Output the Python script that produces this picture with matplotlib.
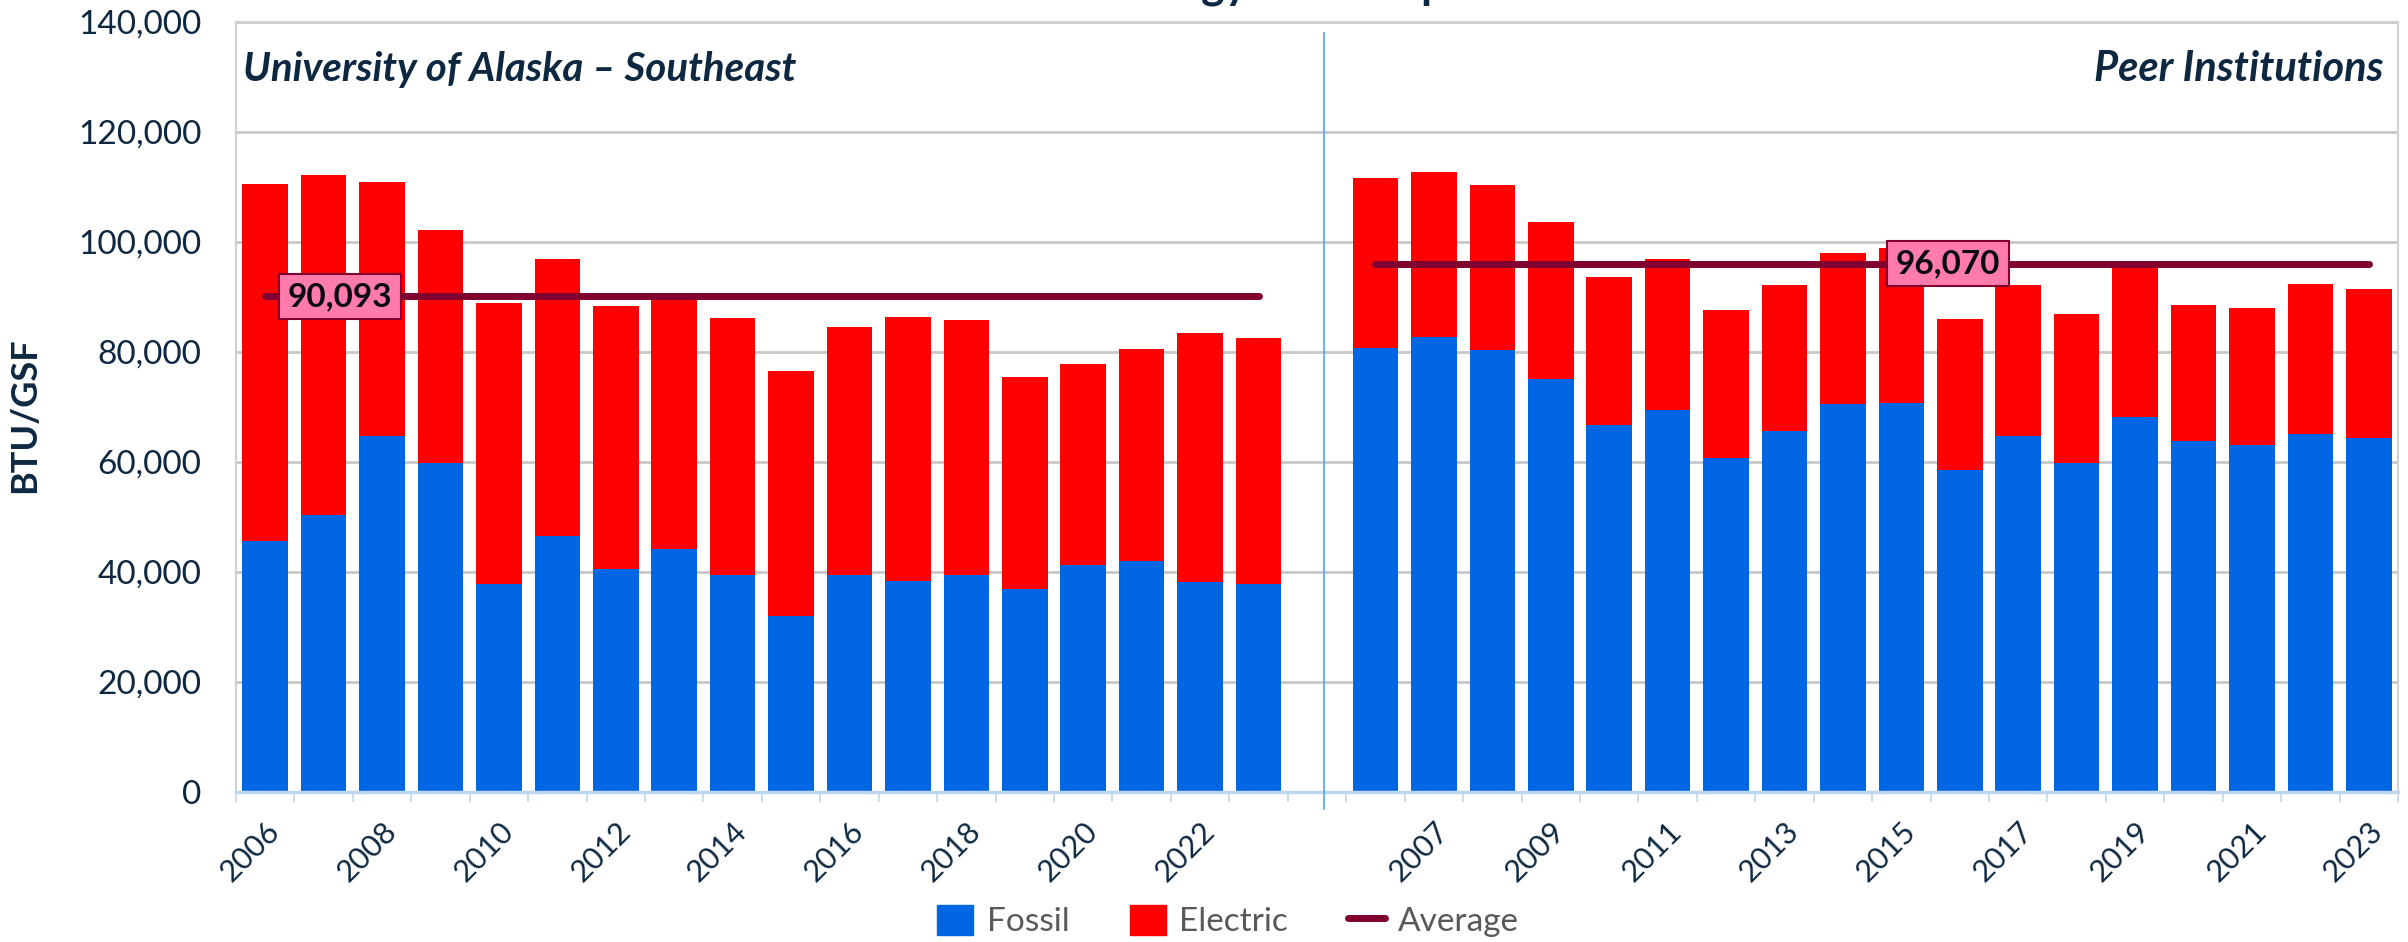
import matplotlib
matplotlib.use('Agg')
import matplotlib.pyplot as plt
import numpy as np
from matplotlib.patches import Patch
from matplotlib.lines import Line2D

plt.rcParams['font.family'] = ['Lato', 'DejaVu Sans']

# Data (BTU/GSF)
years_uas = list(range(2006, 2024))
fossil_uas = [45700, 50300, 64700, 59800, 37800, 46600, 40500, 44100, 39400,
              32000, 39400, 38400, 39400, 36900, 41200, 42000, 38100, 37800]
total_uas = [110500, 112100, 111000, 102100, 88900, 96900, 88300, 90500, 86200,
             76600, 84600, 86400, 85800, 75500, 77900, 80500, 83500, 82500]
avg_uas = 90093

years_peer = list(range(2006, 2024))
fossil_peer = [80800, 82700, 80400, 75100, 66800, 69500, 60800, 65600, 70600,
               70800, 58600, 64800, 59900, 68200, 63900, 63100, 65100, 64400]
total_peer = [111600, 112700, 110300, 103700, 93700, 96900, 87700, 92100, 98000,
              98900, 86000, 92200, 86900, 96200, 88600, 88000, 92300, 91400]
avg_peer = 96070

panel_names = ['University of Alaska \u2013 Southeast', 'Peer Institutions']
title = 'Energy Consumption'

# Colours
c_fossil = '#0066E3'
c_electric = '#FF0000'
c_avg = '#800030'
c_text = '#0E2841'

elec_uas = [t - f for t, f in zip(total_uas, fossil_uas)]
elec_peer = [t - f for t, f in zip(total_peer, fossil_peer)]

# one category axis: UAS years, one blank slot, peer years
n = len(years_uas)
x_uas = np.arange(n)
x_peer = np.arange(n) + n + 1
gap_x = n + 0.125

W, H = 2408, 942
fig = plt.figure(figsize=(W / 100, H / 100), dpi=100)
ax = fig.add_axes([236 / W, (H - 792) / H, (2398 - 236) / W, (792 - 22) / H])

bw = 0.78
ax.bar(x_uas, fossil_uas, bw, color=c_fossil, zorder=2)
ax.bar(x_uas, elec_uas, bw, bottom=fossil_uas, color=c_electric, zorder=2)
ax.bar(x_peer, fossil_peer, bw, color=c_fossil, zorder=2)
ax.bar(x_peer, elec_peer, bw, bottom=fossil_peer, color=c_electric, zorder=2)

ax.plot([x_uas[0], x_uas[-1]], [avg_uas, avg_uas], color=c_avg, lw=5,
        solid_capstyle='round', zorder=3)
ax.plot([x_peer[0], x_peer[-1]], [avg_peer, avg_peer], color=c_avg, lw=5,
        solid_capstyle='round', zorder=3)

box = dict(boxstyle='square,pad=0.25', fc='#FF7BAC', ec=c_avg, lw=1.5)
ax.text(1.28, avg_uas, f'{avg_uas:,}', ha='center', va='center', fontsize=24,
        fontweight='bold', color='#0A0A14', bbox=box, zorder=4)
ax.text(28.8, avg_peer, f'{avg_peer:,}', ha='center', va='center', fontsize=24,
        fontweight='bold', color='#0A0A14', bbox=box, zorder=4)

# divider between the two groups
ax.plot([gap_x, gap_x], [-3000, 138000], color='#4DA6F0', lw=1.2,
        clip_on=False, zorder=3)

ax.text(7 / 2162, 1 - 47 / 770, panel_names[0], transform=ax.transAxes,
        ha='left', va='center', fontsize=29, fontweight='bold',
        fontstyle='italic', color=c_text)
ax.text(1 - 14 / 2162, 1 - 47 / 770, panel_names[1], transform=ax.transAxes,
        ha='right', va='center', fontsize=30, fontweight='bold',
        fontstyle='italic', color=c_text)

# axes styling
ax.set_xlim(-0.5, 2 * n + 0.5)
ax.set_ylim(0, 140000)
ax.set_yticks(np.arange(0, 140001, 20000))
ax.set_yticklabels([f'{v:,}' for v in range(0, 140001, 20000)])
ax.tick_params(axis='y', length=0, pad=25, labelsize=24, labelcolor=c_text)
ax.grid(axis='y', color='#C8C8C8', lw=2, zorder=0)
ax.set_axisbelow(True)

all_years = years_uas + [None] + years_peer
tick_pos = [i for i in range(0, 2 * n + 1, 2) if all_years[i] is not None]
ax.set_xticks(tick_pos)
ax.set_xticklabels([str(all_years[i]) for i in tick_pos], rotation=45,
                   ha='right', rotation_mode='anchor', fontsize=22, color=c_text)
ax.tick_params(axis='x', which='major', length=0, pad=18)
ax.set_xticks(np.arange(-0.5, 2 * n + 1, 1), minor=True)
ax.tick_params(axis='x', which='minor', length=7, width=1.2, color='#BDD7EE')

for s in ['left', 'top', 'right']:
    ax.spines[s].set_color('#D0D0D0')
    ax.spines[s].set_linewidth(1.5)
ax.spines['bottom'].set_color('#BDD7EE')
ax.spines['bottom'].set_linewidth(2.5)

ax.set_ylabel('BTU/GSF', fontsize=26, fontweight='bold', color=c_text)
ax.yaxis.set_label_coords(-(236 - 41) / 2162, 0.49)

# title sits above the visible area, as in the reference
fig.text((236 + 2398) / 2 / W, 1 + 2 / H, title, ha='center', va='baseline',
         fontsize=32, fontweight='bold', color=c_text)

handles = [Patch(color=c_fossil), Patch(color=c_electric),
           Line2D([0], [0], color=c_avg, lw=5, solid_capstyle='round')]
fig.legend(handles, ['Fossil', 'Electric', 'Average'], loc='center',
           bbox_to_anchor=(1228 / W, 21 / H), ncol=3, frameon=False,
           fontsize=24, labelcolor='#595959', handlelength=1.1,
           handleheight=1.0, handletextpad=0.4, columnspacing=1.8)

fig.savefig('out.png', dpi=100)
